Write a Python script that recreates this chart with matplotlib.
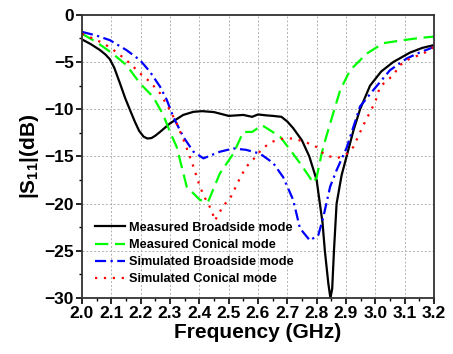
import numpy as np
import matplotlib
matplotlib.use("Agg")
import matplotlib.pyplot as plt
from matplotlib.ticker import MultipleLocator

plt.rcParams['font.family'] = ['Liberation Sans', 'DejaVu Sans']
plt.rcParams['font.weight'] = 'bold'
plt.rcParams['mathtext.fontset'] = 'custom'
plt.rcParams['mathtext.rm'] = 'Liberation Sans:bold'
plt.rcParams['mathtext.bf'] = 'Liberation Sans:bold'

# Measured Broadside mode
meas_bs_f = [2.0, 2.03, 2.06, 2.08, 2.095, 2.11, 2.13, 2.147, 2.164, 2.18, 2.195, 2.21,
             2.223, 2.237, 2.25, 2.266, 2.30, 2.345, 2.38, 2.41, 2.45, 2.5, 2.55, 2.58,
             2.6, 2.63, 2.65, 2.68, 2.7, 2.72, 2.75, 2.775, 2.8, 2.811, 2.82, 2.828, 2.84,
             2.847, 2.853, 2.859, 2.868, 2.885, 2.902, 2.925, 2.948, 2.982, 3.02, 3.061,
             3.118, 3.16, 3.2]
meas_bs_s = [-2.6, -3.1, -3.7, -4.2, -4.7, -5.6, -7.3, -8.8, -10.1, -11.3, -12.3, -12.9,
             -13.1, -13.05, -12.8, -12.4, -11.5, -10.6, -10.27, -10.2, -10.3, -10.7, -10.6,
             -10.8, -10.55, -10.65, -10.7, -10.8, -11.3, -12.0, -13.3, -15.0, -17.5, -20.0,
             -22.0, -25.0, -28.5, -30.0, -29.0, -25.0, -20.0, -17.0, -15.0, -12.3, -10.0,
             -7.5, -6.0, -5.0, -4.0, -3.5, -3.2]

# Measured Conical mode
meas_cn_f = [2.0, 2.05, 2.1, 2.152, 2.198, 2.243, 2.277, 2.30, 2.323, 2.357, 2.402, 2.43,
             2.47, 2.516, 2.55, 2.58, 2.614, 2.64, 2.675, 2.71, 2.75, 2.789, 2.80, 2.817,
             2.83, 2.846, 2.88, 2.914, 2.971, 3.027, 3.095, 3.15, 3.2]
meas_cn_s = [-2.0, -2.9, -4.0, -5.33, -7.27, -8.7, -10.6, -12.4, -14.0, -18.2, -19.6, -19.8,
             -16.8, -14.7, -12.4, -12.4, -11.7, -12.2, -12.9, -14.3, -16.0, -17.8, -17.2,
             -14.7, -13.2, -11.5, -8.0, -5.86, -4.1, -3.0, -2.68, -2.45, -2.3]

# Simulated Broadside mode
sim_bs_f = [2.0, 2.05, 2.095, 2.152, 2.198, 2.232, 2.266, 2.289, 2.311, 2.345, 2.38, 2.414,
            2.47, 2.516, 2.56, 2.607, 2.652, 2.686, 2.72, 2.743, 2.777, 2.806, 2.823, 2.846,
            2.868, 2.902, 2.948, 2.993, 3.05, 3.107, 3.15, 3.2]
sim_bs_s = [-1.8, -2.2, -2.68, -3.74, -4.8, -6.04, -7.6, -9.0, -10.8, -12.9, -14.5, -15.2,
            -14.5, -14.15, -14.3, -14.7, -15.7, -17.2, -19.6, -22.6, -23.9, -23.3, -21.4, -18.2,
            -16.45, -14.1, -9.7, -7.98, -5.86, -4.62, -4.0, -3.4]

# Simulated Conical mode
sim_cn_f = [2.0, 2.073, 2.12, 2.164, 2.198, 2.232, 2.266, 2.30, 2.323, 2.351, 2.38, 2.402,
            2.42, 2.442, 2.453, 2.482, 2.505, 2.54, 2.56, 2.596, 2.613, 2.647, 2.686, 2.72,
            2.76, 2.80, 2.828, 2.868, 2.90, 2.925, 2.959, 2.982, 3.0, 3.016, 3.061, 3.084,
            3.118, 3.164, 3.2]
sim_cn_s = [-2.0, -3.0, -4.0, -5.15, -6.2, -7.1, -8.3, -10.1, -11.5, -13.6, -16.1, -18.2,
            -19.45, -20.7, -21.8, -20.2, -19.45, -17.2, -16.1, -14.9, -14.2, -13.45, -13.1,
            -13.1, -13.45, -14.0, -14.85, -15.2, -14.8, -14.0, -11.7, -10.3, -9.2, -7.6,
            -6.4, -5.33, -4.62, -4.1, -3.4]

labels = ['Measured Broadside mode', 'Measured Conical mode',
          'Simulated Broadside mode', 'Simulated Conical mode']

fig = plt.figure(figsize=(4.53, 3.54), dpi=100)
ax = fig.add_axes([0.181, 0.158, 0.777, 0.80])

ax.plot(meas_bs_f, meas_bs_s, color='black', lw=1.6, label=labels[0])
ax.plot(meas_cn_f, meas_cn_s, color='#00ff00', lw=1.6, linestyle=(0, (6, 3)), label=labels[1])
ax.plot(sim_bs_f, sim_bs_s, color='#0000ff', lw=1.6, linestyle=(0, (5, 2, 1, 2)), label=labels[2])
ax.plot(sim_cn_f, sim_cn_s, color='#ff0000', lw=1.6, linestyle=(0, (1, 3)), label=labels[3])

ax.set_xlim(2.0, 3.2)
ax.set_ylim(-30, 0)
ax.xaxis.set_minor_locator(MultipleLocator(0.05))
ax.yaxis.set_major_locator(MultipleLocator(5))
ax.yaxis.set_minor_locator(MultipleLocator(2.5))
ax.set_xticks(np.arange(2.0, 3.21, 0.1))
ax.set_xticklabels(['%.1f' % v for v in np.arange(2.0, 3.21, 0.1)])
ax.tick_params(which='major', direction='out', length=4, width=1.2, labelsize=12.5, pad=2)
ax.tick_params(which='minor', direction='out', length=2, width=1.0)
for lab in ax.get_xticklabels() + ax.get_yticklabels():
    lab.set_fontweight('bold')

ax.grid(True, which='major', color='#b0b0b0', linestyle=(0, (2, 2)), lw=0.7)
for sp in ax.spines.values():
    sp.set_linewidth(1.3)
    sp.set_color('#333333')

ax.set_xlabel('Frequency (GHz)', fontsize=15, fontweight='bold', labelpad=1)
ax.set_ylabel(r'$\mathbf{|S_{11}|(dB)}$', fontsize=15, labelpad=2)

leg = ax.legend(loc='lower left', bbox_to_anchor=(0.0, 0.0), frameon=False,
                prop={'weight': 'bold', 'size': 9.2}, handlelength=2.4,
                handletextpad=0.25, labelspacing=0.4, borderaxespad=0.6)

fig.savefig('out.png', dpi=100)
